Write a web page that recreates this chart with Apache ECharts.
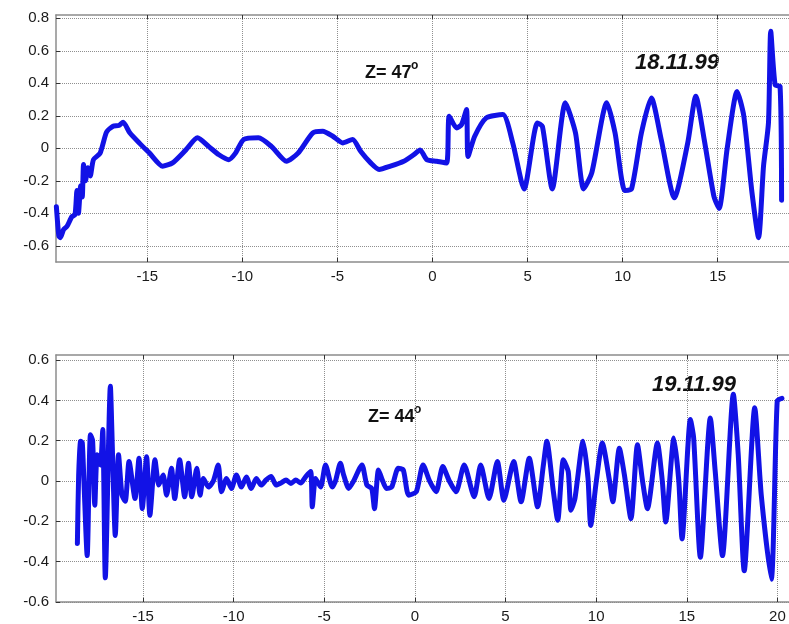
<!DOCTYPE html>
<html>
<head>
<meta charset="utf-8">
<script src="https://cdn.jsdelivr.net/npm/echarts@6/dist/echarts.min.js"></script>
<style>
  html, body { margin: 0; padding: 0; background: #fff; }
  #chart { width: 789px; height: 624px; }
</style>
</head>
<body>
<div id="chart"></div>
<script>
// 18.11.99 record (upper panel)
var topX = [-19.78, -19.65, -19.57, -19.4, -19.22, -18.96, -18.8, -18.7, -18.62, -18.5, -18.42, -18.35, -18.25, -18.12, -18.0,
  -17.83, -17.48, -17.14, -16.8, -16.5, -16.27, -15.92, -15.4, -14.88, -14.19, -13.67, -12.97, -12.36, -11.76, -11.23,
  -10.71, -10.36, -9.93, -9.15, -8.46, -7.68, -7.07, -6.29, -5.77, -5.24, -4.72, -4.2, -3.77, -3.25, -2.81, -2.21,
  -1.51, -0.99, -0.65, -0.3, 0.22, 0.74, 0.88, 1.27, 1.53, 1.79, 1.87, 2.22, 2.83, 3.7, 4.22, 4.82, 5.52, 5.78,
  6.3, 6.99, 7.52, 7.95, 8.38, 9.17, 9.6, 10.12, 10.47, 10.99, 11.51, 12.03, 12.72, 13.42, 13.85, 14.29, 14.8,
  15.07, 15.5, 16.02, 16.37, 16.8, 17.15, 17.41, 17.67, 17.79, 18.02, 18.28, 18.36]
var topY = [-0.36, -0.54, -0.55, -0.5, -0.48, -0.42, -0.41, -0.26, -0.4, -0.23, -0.3, -0.1, -0.2, -0.12, -0.17,
  -0.07, -0.03, 0.1, 0.135, 0.14, 0.16, 0.095, 0.03, -0.03, -0.11, -0.09, -0.01, 0.064, 0.01, -0.04,
  -0.07, -0.03, 0.054, 0.064, 0.01, -0.08, -0.03, 0.095, 0.105, 0.074, 0.033, 0.054, -0.02, -0.09, -0.13, -0.11,
  -0.08, -0.04, -0.01, -0.07, -0.08, -0.09, 0.197, 0.125, 0.146, 0.238, -0.05, 0.074, 0.187, 0.207, 0.033, -0.25, 0.156, 0.135,
  -0.25, 0.28, 0.095, -0.25, -0.15, 0.28, 0.095, -0.26, -0.25, 0.095, 0.31, 0.054, -0.305, 0.03, 0.32, 0.054, -0.295,
  -0.37, 0.0, 0.35, 0.2, -0.27, -0.55, -0.11, 0.156, 0.72, 0.39, 0.38, -0.32]

// 19.11.99 record (lower panel)
var bottomX = [-18.62, -18.55, -18.44, -18.35, -18.26, -18.08, -17.9, -17.78, -17.66, -17.53, -17.35, -17.22, -17.08,
  -16.8, -16.68, -16.53, -16.35, -16.16, -15.98, -15.77, -15.44, -15.22, -15.04, -14.8, -14.62, -14.34, -14.13, -13.89,
  -13.7, -13.43, -13.25, -12.98, -12.7, -12.49, -12.31, -12.03, -11.85, -11.67, -11.39, -11.12, -10.85, -10.67, -10.39,
  -10.12, -9.85, -9.57, -9.3, -9.03, -8.75, -8.48, -8.21, -7.93, -7.66, -7.39, -7.11, -6.84, -6.57, -6.3, -6.02, -5.75,
  -5.66, -5.48, -5.2, -4.93, -4.56, -4.38, -4.11, -3.93, -3.65, -3.38, -2.92, -2.65, -2.38, -2.23, -2.01, -1.83, -1.56,
  -1.28, -0.92, -0.64, -0.34, 0.08, 0.45, 0.81, 1.17, 1.54, 1.9, 2.27, 2.72, 3.27, 3.63, 4.09, 4.55, 4.91, 5.45, 5.86,
  6.31, 6.77, 7.09, 7.28, 7.64, 7.88, 8.19, 8.46, 8.61, 8.83, 9.28, 9.55, 9.7, 10.01, 10.34, 10.74, 10.92, 11.28, 11.56,
  11.92, 12.28, 12.56, 12.83, 13.38, 13.65, 13.84, 14.29, 14.56, 14.74, 15.2, 15.38, 15.75, 16.3, 16.57, 16.97, 17.57,
  17.84, 18.17, 18.75, 19.11, 19.66, 19.99, 20.25]
var bottomY = [-0.31, 0.03, 0.197, 0.19, 0.0, -0.37, 0.23, 0.2, -0.12, 0.13, 0.08, 0.255, -0.48,
  0.47, 0.13, -0.27, 0.13, -0.07, -0.1, 0.097, -0.087, 0.113, -0.137, 0.12, -0.17, 0.105, -0.02, 0.03,
  -0.07, 0.063, -0.087, 0.105, -0.078, 0.088, -0.078, 0.063, -0.07, 0.013, -0.03, 0.0, 0.08, -0.053, 0.013,
  -0.037, 0.03, -0.03, 0.02, -0.037, 0.013, -0.02, 0.005, 0.022, -0.02, -0.01, 0.005, -0.012, 0.005, -0.01, 0.022, 0.047,
  -0.128, 0.013, -0.03, 0.08, -0.03, 0.0, 0.088, 0.03, -0.037, 0.0, 0.08, -0.02, -0.037, -0.137, 0.055, 0.013, -0.037,
  -0.03, 0.063, 0.055, -0.07, -0.053, 0.08, 0.0, -0.053, 0.072, 0.0, -0.053, 0.08, -0.078, 0.08, -0.087, 0.097, -0.095, 0.097, -0.103,
  0.113, -0.128, 0.08, 0.197, -0.053, -0.195, 0.105, 0.047, -0.145, -0.087, 0.197, 0.013, -0.22, 0.0, 0.188, 0.0, -0.103, 0.163, 0.03,
  -0.187, 0.18, 0.0, -0.137, 0.188, 0.0, -0.203, 0.213, 0.0, -0.287, 0.305, 0.213, -0.378, 0.313, 0.047, -0.37, 0.43,
  0.13, -0.445, 0.363, -0.07, -0.487, 0.397, 0.41]

var topXTicks = [-15, -10, -5, 0, 5, 10, 15]
var bottomXTicks = [-15, -10, -5, 0, 5, 10, 15, 20]
var topYTicks = [-0.6, -0.4, -0.2, 0, 0.2, 0.4, 0.6, 0.8]
var bottomYTicks = [-0.6, -0.4, -0.2, 0, 0.2, 0.4, 0.6]

var LINE_COLOR = '#1212e6'
var FONT = '"Liberation Sans", Arial, sans-serif'

function pairs (xs, ys) {
  return xs.map(function (x, i) { return [x, ys[i]] })
}

function axis (gridIndex, min, max, ticks, position, withLabels) {
  return {
    type: 'value',
    gridIndex: gridIndex,
    min: min,
    max: max,
    position: position,
    axisLine: { show: true, onZero: false, lineStyle: { color: '#8c8c8c', width: 1.5 } },
    axisTick: { show: true, inside: true, length: 4, customValues: ticks, lineStyle: { color: '#333' } },
    axisLabel: {
      show: withLabels,
      customValues: ticks,
      margin: 7,
      color: '#1a1a1a',
      fontSize: 15,
      fontFamily: FONT
    },
    splitLine: { show: withLabels, lineStyle: { type: 'dotted', color: '#8f8f8f', width: 1 } }
  }
}

function label (x, y, text, font) {
  return {
    type: 'text',
    x: x,
    y: y,
    silent: true,
    style: { text: text, font: font, fill: '#111', verticalAlign: 'middle' }
  }
}

function trace (xIdx, yIdx, xs, ys) {
  return {
    type: 'line',
    xAxisIndex: xIdx,
    yAxisIndex: yIdx,
    data: pairs(xs, ys),
    showSymbol: false,
    smooth: 0.22,
    lineStyle: { color: LINE_COLOR, width: 5, join: 'round', cap: 'round' }
  }
}

var chart = echarts.init(document.getElementById('chart'))
chart.setOption({
  animation: false,
  backgroundColor: '#fff',
  grid: [
    { left: 56, top: 15, width: 740, height: 247 },
    { left: 56, top: 355, width: 740, height: 248 }
  ],
  xAxis: [
    axis(0, -19.8, 18.75, topXTicks, 'bottom', true),
    axis(0, -19.8, 18.75, topXTicks, 'top', false),
    axis(1, -19.8, 20.64, bottomXTicks, 'bottom', true),
    axis(1, -19.8, 20.64, bottomXTicks, 'top', false)
  ],
  yAxis: [
    axis(0, -0.7, 0.82, topYTicks, 'left', true),
    axis(1, -0.6, 0.625, bottomYTicks, 'left', true)
  ],
  series: [
    trace(0, 0, topX, topY),
    trace(2, 1, bottomX, bottomY)
  ],
  graphic: [
    label(365, 73, 'Z= 47', 'bold 18px ' + FONT),
    label(411, 66, 'o', 'bold 12px ' + FONT),
    label(635, 63, '18.11.99', 'italic bold 22px ' + FONT),
    label(368, 417, 'Z= 44', 'bold 18px ' + FONT),
    label(414, 410, 'o', 'bold 12px ' + FONT),
    label(652, 385, '19.11.99', 'italic bold 22px ' + FONT)
  ]
})
</script>
</body>
</html>
